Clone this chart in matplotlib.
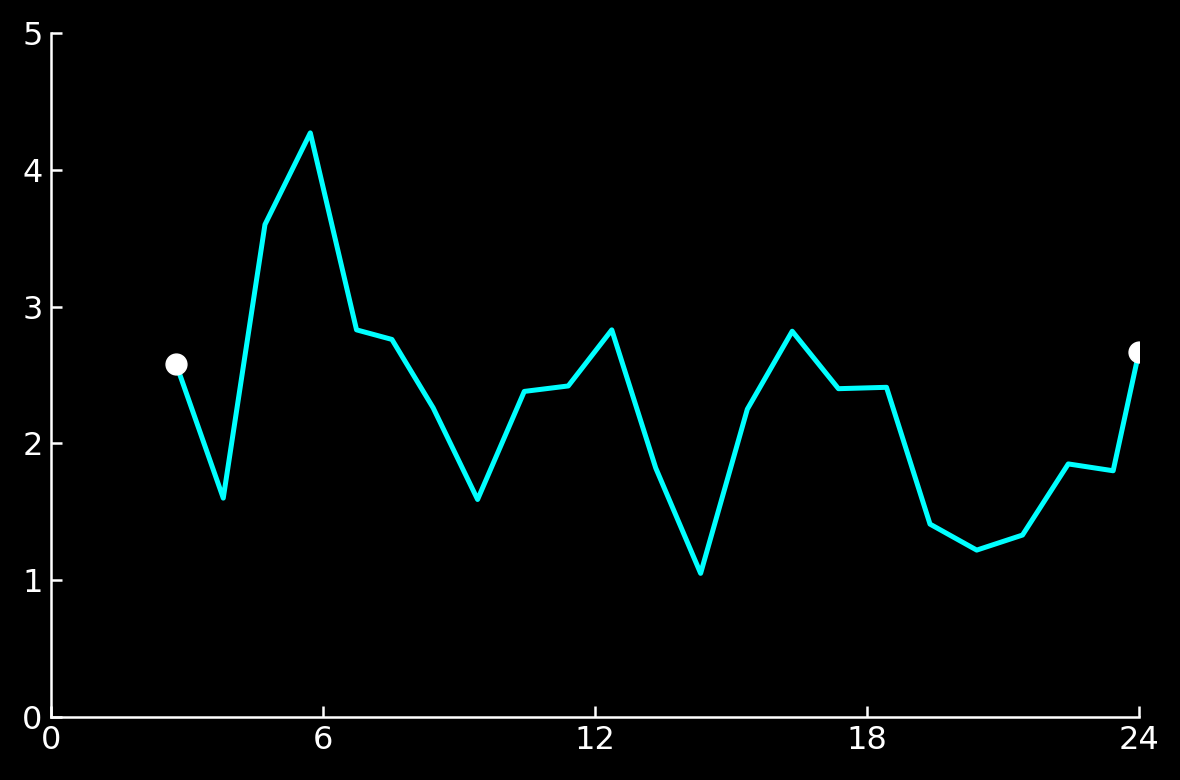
import numpy as np
import matplotlib
matplotlib.use('Agg')
import matplotlib.pyplot as plt

# hours and values
hours = [2.76, 3.80, 4.72, 5.72, 6.74, 7.52, 8.43, 9.41, 10.44, 11.41, 12.37,
         13.34, 14.33, 15.36, 16.35, 17.37, 18.43, 19.39, 20.42, 21.43, 22.44,
         23.43, 24.0]
values = [2.58, 1.60, 3.60, 4.27, 2.83, 2.76, 2.26, 1.59, 2.38, 2.42, 2.83,
          1.82, 1.05, 2.25, 2.82, 2.40, 2.41, 1.41, 1.22, 1.33, 1.85,
          1.80, 2.67]
xticks = [0, 6, 12, 18, 24]
yticks = [0, 1, 2, 3, 4, 5]

fig = plt.figure(figsize=(11.8, 7.8), dpi=100, facecolor='black')
ax = fig.add_axes([51/1180, 63/780, 1088/1180, 684/780])
ax.set_facecolor('black')

ax.plot(hours, values, color='#00ffff', lw=3.6, zorder=2)
ax.plot([hours[0], hours[-1]], [values[0], values[-1]], 'o', color='white',
        ms=15, zorder=3)

ax.set_xlim(0, 24)
ax.set_ylim(0, 5)
ax.set_xticks(xticks)
ax.set_yticks(yticks)
for s in ['top', 'right']:
    ax.spines[s].set_visible(False)
for s in ['left', 'bottom']:
    ax.spines[s].set_color('white')
    ax.spines[s].set_linewidth(1.8)
ax.tick_params(colors='white', labelsize=23, direction='in', length=8,
               width=1.8, pad=6)

fig.savefig('out.png', dpi=100, facecolor='black')
